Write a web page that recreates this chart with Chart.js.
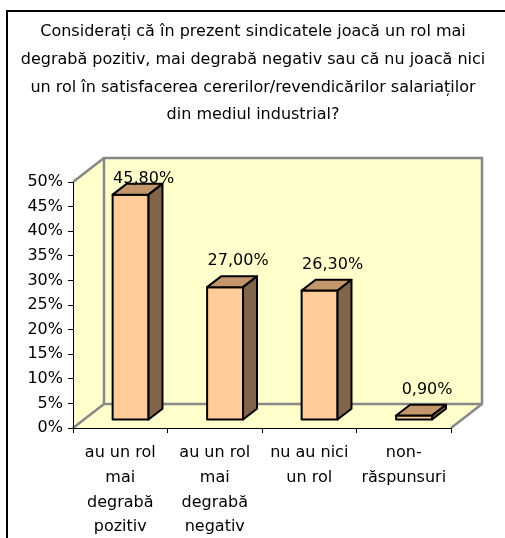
<!DOCTYPE html>
<html>
<head>
<meta charset="utf-8">
<script src="https://cdn.jsdelivr.net/npm/chart.js@4"></script>
<style>
  html, body { margin: 0; padding: 0; background: #fff; }
</style>
</head>
<body>
<canvas id="chart" width="505" height="538"></canvas>
<script>
// date
const titleLines = [
  'Considerați că în prezent sindicatele joacă un rol mai',
  'degrabă pozitiv, mai degrabă negativ sau că nu joacă nici',
  'un rol în satisfacerea cererilor/revendicărilor salariaților',
  'din mediul industrial?'
];
const categories = [
  ['au un rol', 'mai', 'degrabă', 'pozitiv'],
  ['au un rol', 'mai', 'degrabă', 'negativ'],
  ['nu au nici', 'un rol'],
  ['non-', 'răspunsuri']
];
const values = [45.8, 27.0, 26.3, 0.9];
const valueLabels = ['45,80%', '27,00%', '26,30%', '0,90%'];
const yMax = 50;
const yStep = 5;

// efect 3D
const DEPTH_X = 31;
const DEPTH_Y = 24;
const BAR_SHIFT = 1 / 3;   // unde incepe bara in adancime
const BAR_DEPTH = 0.45;    // grosimea barei

const FONT = '"DejaVu Sans", sans-serif';

function poly(ctx, pts) {
  ctx.beginPath();
  pts.forEach(([px, py], i) => i ? ctx.lineTo(px, py) : ctx.moveTo(px, py));
  ctx.closePath();
}

const box3d = {
  id: 'box3d',
  beforeDraw(chart) {
    const { ctx, chartArea: a } = chart;
    ctx.save();
    ctx.fillStyle = '#fff';
    ctx.fillRect(0, 0, chart.width, chart.height);

    // titlu
    ctx.fillStyle = '#000';
    ctx.font = '16px ' + FONT;
    ctx.textAlign = 'center';
    ctx.textBaseline = 'middle';
    titleLines.forEach((line, i) => ctx.fillText(line, 253, 32 + i * 27.7));

    // pereti
    const dx = DEPTH_X, dy = DEPTH_Y;
    ctx.fillStyle = '#ffffcc';
    poly(ctx, [[a.left, a.bottom], [a.right, a.bottom], [a.right + dx, a.bottom - dy], [a.left + dx, a.bottom - dy]]);
    ctx.fill();
    poly(ctx, [[a.left, a.bottom], [a.left, a.top], [a.left + dx, a.top - dy], [a.left + dx, a.bottom - dy]]);
    ctx.fill();
    ctx.fillRect(a.left + dx, a.top - dy, a.width, a.height);

    ctx.strokeStyle = '#888';
    ctx.lineWidth = 2.5;
    ctx.strokeRect(a.left + dx, a.top - dy, a.width, a.height);
    ctx.beginPath();
    ctx.moveTo(a.left, a.top); ctx.lineTo(a.left + dx, a.top - dy);
    ctx.moveTo(a.left, a.bottom); ctx.lineTo(a.left + dx, a.bottom - dy);
    ctx.moveTo(a.right, a.bottom); ctx.lineTo(a.right + dx, a.bottom - dy);
    ctx.stroke();
    ctx.restore();
  },
  afterDatasetsDraw(chart) {
    const { ctx, chartArea: a } = chart;
    const meta = chart.getDatasetMeta(0);
    const sx = DEPTH_X * BAR_SHIFT, sy = DEPTH_Y * BAR_SHIFT;
    const bx = DEPTH_X * BAR_DEPTH, by = DEPTH_Y * BAR_DEPTH;
    ctx.save();
    ctx.strokeStyle = '#000';
    ctx.lineWidth = 2;
    ctx.lineJoin = 'round';
    meta.data.forEach((bar, i) => {
      const { x, y, base, width } = bar.getProps(['x', 'y', 'base', 'width'], true);
      const l = x - width / 2 + sx, r = x + width / 2 + sx;
      const t = y - sy, b = base - sy;

      // fata
      ctx.fillStyle = '#ffcc99';
      poly(ctx, [[l, b], [l, t], [r, t], [r, b]]);
      ctx.fill(); ctx.stroke();
      // sus
      ctx.fillStyle = '#c4966c';
      poly(ctx, [[l, t], [l + bx, t - by], [r + bx, t - by], [r, t]]);
      ctx.fill(); ctx.stroke();
      // lateral
      ctx.fillStyle = '#80654a';
      poly(ctx, [[r, t], [r + bx, t - by], [r + bx, b - by], [r, b]]);
      ctx.fill(); ctx.stroke();

      // eticheta
      ctx.fillStyle = '#000';
      ctx.font = '16px ' + FONT;
      ctx.textAlign = 'center';
      ctx.textBaseline = 'middle';
      ctx.fillText(valueLabels[i], (l + r) / 2 + 13, Math.max(t - 26, a.top - 3));
    });
    ctx.restore();
  },
  afterDraw(chart) {
    const { ctx } = chart;
    ctx.save();
    ctx.strokeStyle = '#000';
    ctx.lineWidth = 2;
    ctx.strokeRect(7, 11, chart.width + 20, chart.height + 20);
    ctx.restore();
  }
};

Chart.defaults.font.family = FONT;
Chart.defaults.font.size = 16;
Chart.defaults.color = '#000';

new Chart(document.getElementById('chart'), {
  type: 'bar',
  data: {
    labels: categories,
    datasets: [{
      data: values,
      backgroundColor: 'rgba(0,0,0,0)',
      borderWidth: 0,
      categoryPercentage: 1,
      barPercentage: 0.38
    }]
  },
  options: {
    responsive: false,
    animation: false,
    layout: { padding: { top: 182, right: 54, bottom: 0, left: 0 } },
    plugins: {
      legend: { display: false },
      tooltip: { enabled: false }
    },
    scales: {
      x: {
        grid: { drawOnChartArea: false, drawTicks: true, tickLength: 5, color: '#000' },
        border: { color: '#000', width: 1 },
        ticks: { padding: 8, font: { lineHeight: 1.54 }, maxRotation: 0, autoSkip: false },
        afterFit(scale) { scale.height = 110; }
      },
      y: {
        min: 0,
        max: yMax,
        grid: { drawOnChartArea: false, drawTicks: true, tickLength: 5, color: '#000' },
        border: { color: '#000', width: 1 },
        ticks: { stepSize: yStep, padding: 5, callback: v => v + '%' },
        afterFit(scale) { scale.width = 73; }
      }
    }
  },
  plugins: [box3d]
});
</script>
</body>
</html>
